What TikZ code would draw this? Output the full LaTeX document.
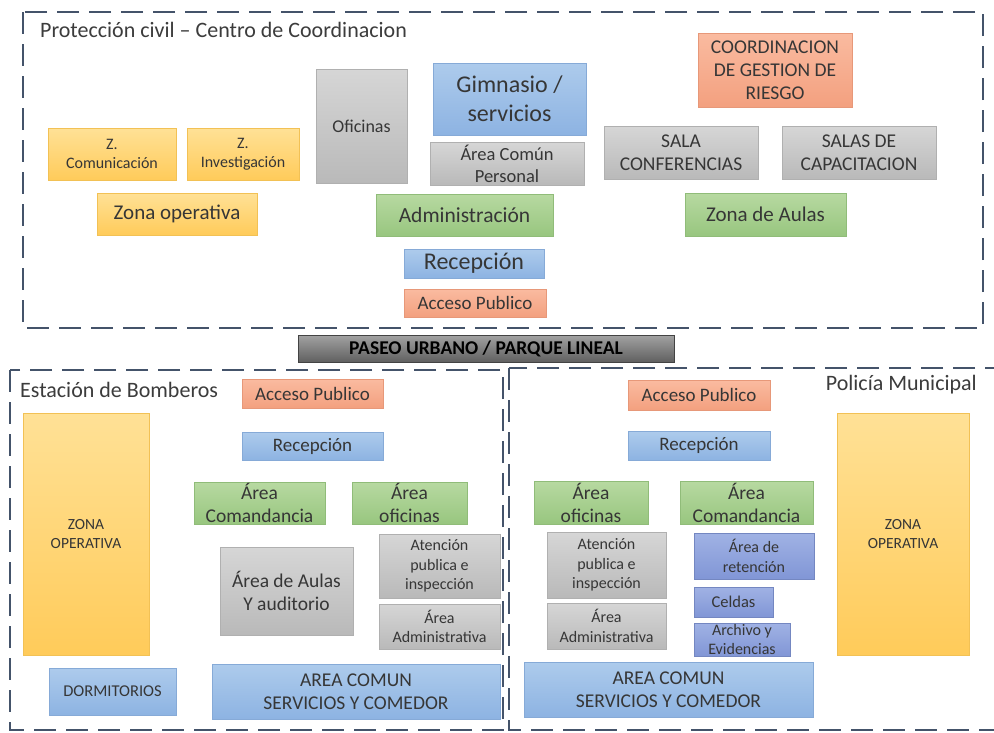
\documentclass[tikz,border=0pt]{standalone}
\usepackage{fontspec}
\setmainfont{Carlito}
\begin{document}
\begin{tikzpicture}[x=1pt,y=-1pt,
  base/.style={rectangle, inner sep=0pt, align=center, text=txtc, font=\fontsize{19}{23}\selectfont},
  gold/.style={base, top color=goldT, bottom color=goldB, draw=goldB!95!black, line width=0.4pt},
  grayb/.style={base, top color=grayT, bottom color=grayB, draw=grayB!95!black, line width=0.4pt},
  blueb/.style={base, top color=blueT, bottom color=blueB, draw=blueB!95!black, line width=0.4pt},
  greenb/.style={base, top color=greenT, bottom color=greenB, draw=greenB!95!black, line width=0.4pt},
  salmon/.style={base, top color=salT, bottom color=salB, draw=salB!95!black, line width=0.4pt},
  peri/.style={base, top color=periT, bottom color=periB, draw=periB!90!black, line width=0.4pt},
  banner/.style={base, top color=banT, bottom color=banB, draw=banB!70!black, line width=0.6pt, text=black, font=\fontsize{19.5}{23}\selectfont\bfseries},
  zonebox/.style={draw=zonec, line width=2.8pt, dash pattern=on 22pt off 10pt},
  ttl/.style={inner sep=0pt, text=ttlc, font=\fontsize{22}{26}\selectfont},
  sm/.style={font=\fontsize{16}{19.5}\selectfont}
]
\definecolor{txtc}{HTML}{363636}
\definecolor{ttlc}{HTML}{3C3C3C}
\definecolor{zonec}{HTML}{44536A}
\definecolor{goldT}{HTML}{FFE196}
\definecolor{goldB}{HTML}{FFCB5A}
\definecolor{grayT}{HTML}{D6D6D6}
\definecolor{grayB}{HTML}{B9B9B9}
\definecolor{blueT}{HTML}{ADCBEC}
\definecolor{blueB}{HTML}{8DB3E2}
\definecolor{greenT}{HTML}{B7D9A1}
\definecolor{greenB}{HTML}{98C67F}
\definecolor{salT}{HTML}{FABBA0}
\definecolor{salB}{HTML}{F3A07F}
\definecolor{periT}{HTML}{A0B2E4}
\definecolor{periB}{HTML}{8196D6}
\definecolor{banT}{HTML}{A2A2A2}
\definecolor{banB}{HTML}{606060}

\newcommand{\areabox}[7]{%
  \node[#2, minimum width={(#5-#3)*1pt}, minimum height={(#6-#4)*1pt}] (#1) at ({(#3+#5)/2},{(#4+#6)/2}) {#7};}

\clip (0,0) rectangle (994,732);
\fill[white] (0,0) rectangle (994,732);

% zone outlines
\draw[zonebox] (23,12) rectangle (983,328);
\draw[zonebox] (10,370) rectangle (503,730);
\draw[zonebox] (509,368) rectangle (1004,730);

% ---- Top: Proteccion civil ----
\node[ttl, anchor=west] (t1) at (40,30) {Protección civil – Centro de Coordinacion};
\areabox{zcom}{gold,sm}{48}{128}{176}{180}{Z.\\Comunicación}
\areabox{zinv}{gold,sm}{187}{128}{299}{180}{Z.\\Investigación}
\areabox{zop}{gold,font=\fontsize{21}{25}\selectfont}{97}{193}{257}{235}{Zona operativa}
\areabox{ofi}{grayb,font=\fontsize{18}{22}\selectfont}{316}{69}{407}{183}{Oficinas}
\areabox{gim}{blueb,font=\fontsize{24}{29}\selectfont}{433}{63}{586}{135}{Gimnasio /\\servicios}
\areabox{acp}{grayb,font=\fontsize{18.5}{22}\selectfont}{430}{142}{584}{185}{Área Común\\Personal}
\areabox{adm}{greenb,font=\fontsize{21.5}{25}\selectfont}{376}{194}{553}{236}{Administración}
\areabox{rec}{blueb,font=\fontsize{24}{28}\selectfont}{404}{249}{544}{278}{Recepción}
\areabox{acc}{salmon}{404}{289}{546}{317}{Acceso Publico}
\areabox{cgr}{salmon,font=\fontsize{19.5}{23}\selectfont}{698}{33}{852}{107}{COORDINACION\\DE GESTION DE\\RIESGO}
\areabox{sconf}{grayb,font=\fontsize{19.5}{23}\selectfont}{604}{126}{758}{179}{SALA\\CONFERENCIAS}
\areabox{scap}{grayb,font=\fontsize{19.5}{23}\selectfont}{782}{126}{936}{179}{SALAS DE\\CAPACITACION}
\areabox{zaul}{greenb,font=\fontsize{21}{25}\selectfont}{685}{193}{846}{236}{Zona de Aulas}

% ---- Banner ----
\areabox{paseo}{banner}{298}{335}{674}{362}{PASEO URBANO / PARQUE LINEAL}

% ---- Bottom left: Bomberos ----
\node[ttl, anchor=west] (t2) at (20,390) {Estación de Bomberos};
\areabox{bacc}{salmon}{242}{379}{383}{408}{Acceso Publico}
\areabox{brec}{blueb}{242}{432}{383}{460}{Recepción}
\areabox{bcom}{greenb,font=\fontsize{19.5}{23}\selectfont}{194}{482}{325}{524}{Área\\Comandancia}
\areabox{bofi}{greenb,font=\fontsize{19.5}{23}\selectfont}{352}{482}{467}{524}{Área\\oficinas}
\areabox{bzop}{gold,font=\fontsize{15.5}{19}\selectfont}{23}{413}{149}{655}{ZONA\\OPERATIVA}
\areabox{baul}{grayb,font=\fontsize{19.5}{23}\selectfont}{220}{547}{353}{635}{Área de Aulas\\Y auditorio}
\areabox{bate}{grayb,font=\fontsize{16}{19.5}\selectfont}{379}{534}{500}{598}{Atención\\publica e\\inspección}
\areabox{badm}{grayb,font=\fontsize{16}{19.5}\selectfont}{379}{604}{500}{649}{Área\\Administrativa}
\areabox{bdor}{blueb,font=\fontsize{16.5}{20}\selectfont}{49}{668}{176}{715}{DORMITORIOS}
\areabox{bcomun}{blueb,font=\fontsize{19.5}{23}\selectfont}{212}{664}{500}{719}{AREA COMUN\\SERVICIOS Y COMEDOR}

% ---- Bottom right: Policia ----
\node[ttl, anchor=east] (t3) at (977,385) {Policía Municipal};
\areabox{pacc}{salmon}{628}{380}{770}{410}{Acceso Publico}
\areabox{prec}{blueb}{628}{431}{770}{460}{Recepción}
\areabox{pofi}{greenb,font=\fontsize{19.5}{23}\selectfont}{534}{481}{648}{524}{Área\\oficinas}
\areabox{pcom}{greenb,font=\fontsize{19.5}{23}\selectfont}{680}{481}{813}{524}{Área\\Comandancia}
\areabox{pate}{grayb,font=\fontsize{16}{19.5}\selectfont}{547}{532}{666}{598}{Atención\\publica e\\inspección}
\areabox{padm}{grayb,font=\fontsize{16}{19.5}\selectfont}{547}{603}{666}{649}{Área\\Administrativa}
\areabox{pret}{peri,font=\fontsize{16}{19.5}\selectfont}{694}{533}{814}{579}{Área de\\retención}
\areabox{pcel}{peri,font=\fontsize{16.5}{20}\selectfont}{694}{587}{773}{617}{Celdas}
\areabox{parc}{peri,font=\fontsize{16}{19}\selectfont}{694}{623}{790}{656}{Archivo y\\Evidencias}
\areabox{pzop}{gold,font=\fontsize{15.5}{19}\selectfont}{837}{413}{969}{655}{ZONA\\OPERATIVA}
\areabox{pcomun}{blueb,font=\fontsize{19.5}{23}\selectfont}{524}{662}{813}{717}{AREA COMUN\\SERVICIOS Y COMEDOR}
\end{tikzpicture}
\end{document}
